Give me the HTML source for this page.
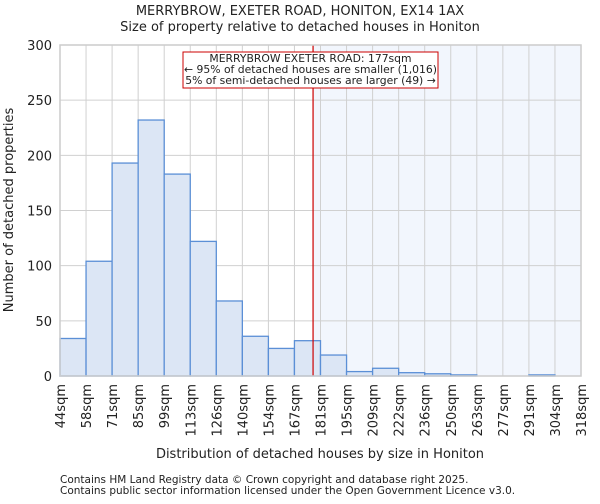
<!DOCTYPE html>
<html><head><meta charset="utf-8"><style>
body{margin:0;background:#fff;font-family:"DejaVu Sans","Liberation Sans",sans-serif;}
svg text{font-family:"DejaVu Sans","Liberation Sans",sans-serif;fill:#222;}
</style></head><body>
<svg id="chart" width="600" height="500" viewBox="0 0 600 500"></svg>
<script>
const binLabels=["44sqm","58sqm","71sqm","85sqm","99sqm","113sqm","126sqm","140sqm","154sqm","167sqm","181sqm","195sqm","209sqm","222sqm","236sqm","250sqm","263sqm","277sqm","291sqm","304sqm","318sqm"];
const binEdges=[44,58,71,85,99,113,126,140,154,167,181,195,209,222,236,250,263,277,291,304,318];
const counts=[34,104,193,232,183,122,68,36,25,32,19,4,7,3,2,1,0,0,1,0];
const yTicks=[0,50,100,150,200,250,300];
const markerSize=177;
const X0=60,X1=581,Y0=376,Y1=45,NS="http://www.w3.org/2000/svg";
const svg=document.getElementById('chart');
const nb=counts.length;
function xIdx(i){return X0+(X1-X0)*i/nb;}
function xVal(v){let i=0;while(i<nb-1&&v>binEdges[i+1])i++;return xIdx(i+(v-binEdges[i])/(binEdges[i+1]-binEdges[i]));}
function y(v){return Y0-(Y0-Y1)*v/300;}
function mk(t,a,txt){const e=document.createElementNS(NS,t);for(const k in a)e.setAttribute(k,a[k]);if(txt!=null)e.textContent=txt;svg.appendChild(e);return e;}
let e;
e=mk('rect',{x:X0,y:Y1,width:X1-X0,height:Y0-Y1,fill:'#fff'});


const mx=xVal(markerSize);
e=mk('rect',{x:mx,y:Y1,width:X1-mx,height:Y0-Y1,fill:'#f2f6fd'});


yTicks.forEach(t=>{e=mk('line',{x1:X0,x2:X1,y1:y(t),y2:y(t),stroke:'#d0d0d0','stroke-width':1});


e=mk('text',{x:X0-8,y:y(t)+5,'text-anchor':'end','font-size':13},t);

});
binLabels.forEach((l,i)=>{const x=xIdx(i);e=mk('line',{x1:x,x2:x,y1:Y1,y2:Y0,stroke:'#d0d0d0','stroke-width':1});


e=mk('text',{x:x+5,y:Y0+8,'text-anchor':'end','font-size':13,transform:`rotate(-90 ${x+5} ${Y0+8})`},l);

});
counts.forEach((c,i)=>{if(c<=0)return;e=mk('rect',{x:xIdx(i),y:y(c),width:xIdx(i+1)-xIdx(i),height:Y0-y(c),fill:'#dce6f5',stroke:'#5b8fd6','stroke-width':1.3});

});
e=mk('line',{x1:mx,x2:mx,y1:Y1,y2:Y0,stroke:'#cc0000','stroke-width':1.2});


e=mk('rect',{x:X0,y:Y1,width:X1-X0,height:Y0-Y1,fill:'none',stroke:'#ccc','stroke-width':1.5});


e=mk('rect',{x:183,y:52,width:255,height:36,fill:'#fff',stroke:'#cc0000','stroke-width':1});


[["MERRYBROW EXETER ROAD: 177sqm",62],["← 95% of detached houses are smaller (1,016)",73],["5% of semi-detached houses are larger (49) →",84]].forEach(a=>{
e=mk('text',{x:310.5,y:a[1],'text-anchor':'middle','font-size':10.8},a[0]);

});
e=mk('text',{x:300,y:15,'text-anchor':'middle','font-size':13},'MERRYBROW, EXETER ROAD, HONITON, EX14 1AX');


e=mk('text',{x:300,y:31,'text-anchor':'middle','font-size':13},'Size of property relative to detached houses in Honiton');


e=mk('text',{x:13,y:210,'text-anchor':'middle','font-size':13,transform:'rotate(-90 13 210)'},'Number of detached properties');


e=mk('text',{x:320,y:458,'text-anchor':'middle','font-size':13},'Distribution of detached houses by size in Honiton');


e=mk('text',{x:60,y:483,'font-size':10.5},'Contains HM Land Registry data © Crown copyright and database right 2025.');


e=mk('text',{x:60,y:494,'font-size':10.5},'Contains public sector information licensed under the Open Government Licence v3.0.');


</script>
</body></html>
